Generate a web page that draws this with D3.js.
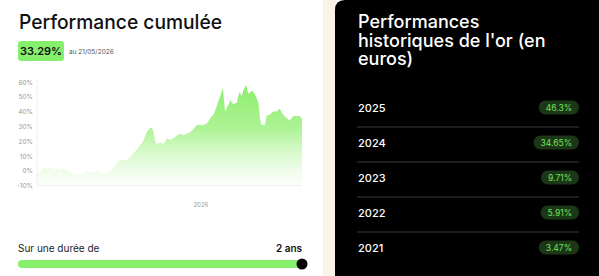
<!DOCTYPE html>
<html>
<head>
<meta charset="utf-8">
<script src="https://cdn.jsdelivr.net/npm/d3@7"></script>
<style>
  html, body { margin: 0; padding: 0; background: #fff; }
  svg { display: block; font-family: Inter, "Noto Sans", sans-serif; }
</style>
</head>
<body>
<svg id="chart" width="599" height="276"></svg>
<script>
// cumulative performance (%)
const perfDates = [
  "2025-05-21", "2025-05-26", "2025-05-30", "2025-06-04", "2025-06-08", "2025-06-13",
  "2025-06-17", "2025-06-22", "2025-06-26", "2025-07-01", "2025-07-05", "2025-07-10",
  "2025-07-15", "2025-07-19", "2025-07-24", "2025-07-28", "2025-08-02", "2025-08-07",
  "2025-08-11", "2025-08-16", "2025-08-20", "2025-08-25", "2025-08-30", "2025-09-03",
  "2025-09-08", "2025-09-12", "2025-09-17", "2025-09-22", "2025-09-26", "2025-10-01",
  "2025-10-05", "2025-10-10", "2025-10-14", "2025-10-19", "2025-10-24", "2025-10-26",
  "2025-10-28", "2025-10-31", "2025-11-02", "2025-11-07", "2025-11-11", "2025-11-16",
  "2025-11-20", "2025-11-25", "2025-11-30", "2025-12-04", "2025-12-09", "2025-12-13",
  "2025-12-18", "2025-12-22", "2025-12-27", "2026-01-01", "2026-01-05", "2026-01-10",
  "2026-01-14", "2026-01-19", "2026-01-23", "2026-01-28", "2026-02-01", "2026-02-04",
  "2026-02-09", "2026-02-11", "2026-02-15", "2026-02-20", "2026-02-24", "2026-02-27",
  "2026-03-01", "2026-03-05", "2026-03-08", "2026-03-13", "2026-03-17", "2026-03-22",
  "2026-03-24", "2026-03-26", "2026-03-31", "2026-04-02", "2026-04-07", "2026-04-11",
  "2026-04-16", "2026-04-20", "2026-04-25", "2026-04-29", "2026-05-04", "2026-05-09",
  "2026-05-13", "2026-05-18", "2026-05-21"
];
const perfValues = [
  -1.8, 0, 2, 1.5, 2, 1, 1.5, 0.5, 1.5, 0.5, -1, -2,
  -2.5, -2.5, -1.5, -0.5, -1.5, -1, 0, -0.5, -1.5, -2, -1, 2,
  5, 7, 7.5, 7, 9, 12, 14, 17, 20, 26, 29, 29,
  27, 20, 18, 19, 18, 22, 21, 22, 24, 25, 24, 25,
  26, 28, 31, 31, 31, 32, 35, 38, 43, 50, 56, 40,
  45, 48, 45, 46, 53, 50, 54, 58, 52, 54, 52, 46,
  36, 31, 31, 37, 38, 40, 40, 42, 38, 36, 34, 37,
  37, 37, 35
];
const yTicks = [60, 50, 40, 30, 20, 10, 0, -10];
const xTickDates = ["2026-01-01"];

// historical gold performance, in euros
const years = ["2025", "2024", "2023", "2022", "2021"];
const yearPerf = ["46.3%", "34.65%", "9.71%", "5.91%", "3.47%"];

const svg = d3.select("#chart");
const parse = d3.timeParse("%Y-%m-%d");
const data = perfDates.map((d, i) => ({ date: parse(d), value: perfValues[i] }));

// ---- left panel ----
svg.append("rect").attr("x", 0).attr("y", 0).attr("width", 323).attr("height", 276).attr("fill", "#fff");

svg.append("text")
  .attr("x", 19).attr("y", 29)
  .attr("font-size", 20).attr("font-weight", 500).attr("fill", "#111")
  .attr("textLength", 203).attr("lengthAdjust", "spacingAndGlyphs")
  .text("Performance cumulée");

svg.append("rect")
  .attr("x", 18).attr("y", 41).attr("width", 46).attr("height", 20).attr("rx", 3)
  .attr("fill", "#86ef6c");
svg.append("text")
  .attr("x", 41).attr("y", 55).attr("text-anchor", "middle")
  .attr("font-size", 11).attr("font-weight", 600).attr("fill", "#111")
  .text("33.29%");
svg.append("text")
  .attr("x", 69).attr("y", 54)
  .attr("font-size", 6.5).attr("fill", "#555")
  .text("au 21/05/2026");

const x = d3.scaleTime()
  .domain([parse("2025-05-21"), parse("2026-05-21")])
  .range([37, 302]);
const y = d3.scaleLinear().domain([-10, 60]).range([185.5, 82]);

const defs = svg.append("defs");
const grad = defs.append("linearGradient")
  .attr("id", "areaFill").attr("gradientUnits", "userSpaceOnUse")
  .attr("x1", 0).attr("x2", 0).attr("y1", y(60)).attr("y2", y(-10));
grad.append("stop").attr("offset", "0%").attr("stop-color", "#8aee68").attr("stop-opacity", 1);
grad.append("stop").attr("offset", "45%").attr("stop-color", "#98f07a").attr("stop-opacity", 0.8);
grad.append("stop").attr("offset", "100%").attr("stop-color", "#c9f7b8").attr("stop-opacity", 0.05);

// faint axis lines
svg.append("line")
  .attr("x1", x.range()[0]).attr("x2", x.range()[0])
  .attr("y1", y(60) - 4).attr("y2", y(-10))
  .attr("stroke", "#f0f0f0");
svg.append("line")
  .attr("x1", x.range()[0]).attr("x2", x.range()[1])
  .attr("y1", y(-10)).attr("y2", y(-10))
  .attr("stroke", "#f0f0f0");

const area = d3.area()
  .x(d => x(d.date))
  .y0(y(-10))
  .y1(d => y(d.value));

svg.append("path")
  .datum(data)
  .attr("d", area)
  .attr("fill", "url(#areaFill)");

const yAxis = svg.append("g")
  .attr("transform", `translate(${x.range()[0]},0)`)
  .call(d3.axisLeft(y).tickValues(yTicks).tickSize(0).tickPadding(4).tickFormat(d => d + "%"));
yAxis.select(".domain").remove();
yAxis.selectAll("text").attr("font-size", 6.5).attr("fill", "#999").attr("font-family", "Inter, sans-serif");

const xAxis = svg.append("g")
  .attr("transform", `translate(0,${y(-10)})`)
  .call(d3.axisBottom(x).tickValues(xTickDates.map(parse)).tickSize(0).tickPadding(17).tickFormat(d3.timeFormat("%Y")));
xAxis.select(".domain").remove();
xAxis.selectAll("text").attr("font-size", 6).attr("fill", "#999").attr("font-family", "Inter, sans-serif");

// duration slider
svg.append("text")
  .attr("x", 18).attr("y", 252)
  .attr("font-size", 10).attr("fill", "#222")
  .text("Sur une durée de");
svg.append("text")
  .attr("x", 302).attr("y", 252).attr("text-anchor", "end")
  .attr("font-size", 10).attr("font-weight", 600).attr("fill", "#111")
  .text("2 ans");
svg.append("rect")
  .attr("x", 18).attr("y", 260).attr("width", 284).attr("height", 8).attr("rx", 4)
  .attr("fill", "#86ef6c");
svg.append("circle")
  .attr("cx", 302).attr("cy", 264).attr("r", 5.5)
  .attr("fill", "#000");

// ---- separator strip + right panel ----
svg.append("rect").attr("x", 323).attr("y", 0).attr("width", 13).attr("height", 276).attr("fill", "#fbf3ea");
svg.append("path")
  .attr("d", "M335,276 V10 Q335,0 345,0 H599 V276 Z")
  .attr("fill", "#000");

const titleLines = ["Performances", "historiques de l'or (en", "euros)"];
svg.append("g").selectAll("text")
  .data(titleLines)
  .join("text")
  .attr("x", 358)
  .attr("y", (d, i) => 28 + i * 18.7)
  .attr("font-size", 18).attr("font-weight", 500).attr("fill", "#fff")
  .text(d => d);

const rowY = d3.scalePoint().domain(years).range([112, 252]);

const rows = svg.append("g").selectAll("g")
  .data(years)
  .join("g")
  .attr("transform", d => `translate(0,${rowY(d)})`);

rows.append("text")
  .attr("x", 358).attr("y", 0)
  .attr("font-size", 11).attr("font-weight", 500).attr("fill", "#fff")
  .text(d => d);

rows.filter((d, i) => i < years.length - 1)
  .append("line")
  .attr("x1", 357).attr("x2", 579)
  .attr("y1", 15).attr("y2", 15)
  .attr("stroke", "#3a3a3a");

rows.each(function (d, i) {
  const g = d3.select(this);
  const t = g.append("text")
    .attr("x", 572).attr("y", -1.5)
    .attr("text-anchor", "end")
    .attr("font-size", 8.5).attr("fill", "#72e25c")
    .text(yearPerf[i]);
  const w = t.node().getComputedTextLength();
  g.insert("rect", "text:last-of-type")
    .attr("x", 572 - w - 7).attr("y", -11.5)
    .attr("width", w + 14).attr("height", 14).attr("rx", 7)
    .attr("fill", "#1c3717");
});
</script>
</body>
</html>
